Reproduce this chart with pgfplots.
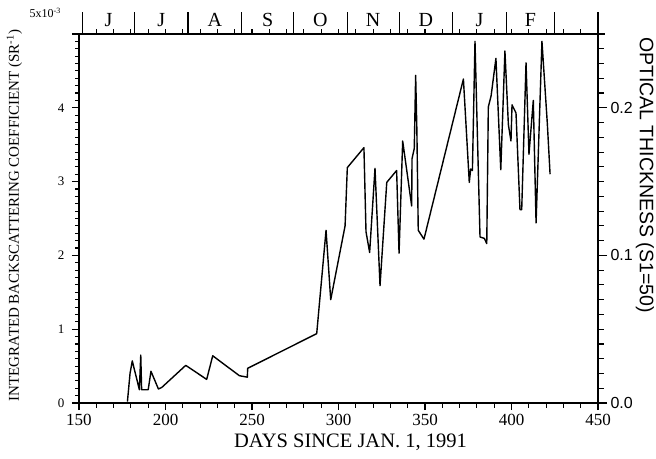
\documentclass[border=0pt]{standalone}
\usepackage{pgfplots}
\pgfplotsset{compat=1.18}
\usetikzlibrary{calc}
\usepackage{fontspec}
\setmainfont{Liberation Serif}
\newfontfamily\hsans{Liberation Sans}

\pgfplotsset{
  frame/.style={
    scale only axis,
    width=519pt, height=369pt,
    xmin=150, xmax=450,
    tick align=outside,
    axis line style={line width=1.3pt},
    xtick style={black, line width=1.1pt},
    ytick style={black, line width=1.1pt},
    /pgf/number format/assume math mode=true,
  },
  ticklines/.style={black, line width=1.1pt, unbounded coords=jump, forget plot},
}

\begin{document}
\begin{tikzpicture}

% left axis: backscatter, bottom axis: days
\begin{axis}[
  frame, name=main,
  clip=false,
  ymin=0, ymax=5,
  xtick pos=bottom, ytick pos=left,
  xtick={150,200,...,450},
  ytick={0,1,2,3,4,5},
  yticklabels={0,1,2,3,4,{}},
  major tick length=7pt,
  xticklabel style={font=\fontsize{17}{19}\selectfont, yshift=-1pt},
  yticklabel style={font=\fontsize{13}{15}\selectfont, xshift=-4pt},
  xlabel={DAYS SINCE JAN. 1, 1991},
  xlabel style={font=\fontsize{20.5}{22}\selectfont, xshift=12pt, yshift=-1pt},
  ylabel={INTEGRATED BACKSCATTERING COEFFICIENT (SR\textsuperscript{-1})},
  ylabel style={font=\fontsize{15}{17}\selectfont, yshift=29pt, xshift=3pt},
]
\addplot[black, line width=1.4pt, line join=round] coordinates {
(178,0.02) (179.5,0.40) (180.8,0.57) (184.9,0.18) (185.7,0.65)
(186.2,0.18) (190,0.18) (191.6,0.43) (195.9,0.19) (197.8,0.21)
(211.7,0.51) (223.8,0.32) (227.3,0.64) (242.7,0.37) (247.3,0.35)
(247.5,0.47) (287.4,0.94) (292.8,2.34) (295.5,1.40) (303.8,2.40)
(305.1,3.19) (314.7,3.46) (315.9,2.32) (318.0,2.04) (321.1,3.18)
(324.0,1.59) (327.9,2.99) (333.6,3.15) (335.0,2.03) (337.1,3.55)
(342.3,2.67) (342.5,3.31) (343.8,3.45) (344.6,4.44) (345.3,3.70)
(346.1,2.34) (349.4,2.22) (372.2,4.39) (375.6,2.99) (376.4,3.17)
(377.4,3.15) (378.9,4.90) (381.8,2.25) (384.3,2.23) (385.7,2.16)
(386.6,4.01) (388.2,4.16) (391.0,4.67) (393.8,3.16) (396.2,4.77)
(398.2,3.77) (399.7,3.55) (400.3,4.04) (402.6,3.93) (404.9,2.62)
(405.9,2.62) (408.4,4.61) (410.1,3.37) (412.6,4.10) (414.2,2.44)
(417.6,4.90) (420.7,3.79) (422.3,3.10)
};

% tick marks along the bottom edge (7pt = 0.095, 4.5pt = 0.061 in y units)
\addplot[ticklines] coordinates {
(150,0) (150,-0.095) (150,nan)
(160,0) (160,-0.061) (160,nan)
(170,0) (170,-0.061) (170,nan)
(180,0) (180,-0.061) (180,nan)
(190,0) (190,-0.061) (190,nan)
(200,0) (200,-0.095) (200,nan)
(210,0) (210,-0.061) (210,nan)
(220,0) (220,-0.061) (220,nan)
(230,0) (230,-0.061) (230,nan)
(240,0) (240,-0.061) (240,nan)
(250,0) (250,-0.095) (250,nan)
(260,0) (260,-0.061) (260,nan)
(270,0) (270,-0.061) (270,nan)
(280,0) (280,-0.061) (280,nan)
(290,0) (290,-0.061) (290,nan)
(300,0) (300,-0.095) (300,nan)
(310,0) (310,-0.061) (310,nan)
(320,0) (320,-0.061) (320,nan)
(330,0) (330,-0.061) (330,nan)
(340,0) (340,-0.061) (340,nan)
(350,0) (350,-0.095) (350,nan)
(360,0) (360,-0.061) (360,nan)
(370,0) (370,-0.061) (370,nan)
(380,0) (380,-0.061) (380,nan)
(390,0) (390,-0.061) (390,nan)
(400,0) (400,-0.095) (400,nan)
(410,0) (410,-0.061) (410,nan)
(420,0) (420,-0.061) (420,nan)
(430,0) (430,-0.061) (430,nan)
(440,0) (440,-0.061) (440,nan)
(450,0) (450,-0.095)
};

% small tick marks along the top edge
\addplot[ticklines] coordinates {
(160,5) (160,5.061) (160,nan)
(170,5) (170,5.061) (170,nan)
(180,5) (180,5.061) (180,nan)
(190,5) (190,5.061) (190,nan)
(200,5) (200,5.061) (200,nan)
(210,5) (210,5.061) (210,nan)
(220,5) (220,5.061) (220,nan)
(230,5) (230,5.061) (230,nan)
(240,5) (240,5.061) (240,nan)
(250,5) (250,5.061) (250,nan)
(260,5) (260,5.061) (260,nan)
(270,5) (270,5.061) (270,nan)
(280,5) (280,5.061) (280,nan)
(290,5) (290,5.061) (290,nan)
(300,5) (300,5.061) (300,nan)
(310,5) (310,5.061) (310,nan)
(320,5) (320,5.061) (320,nan)
(330,5) (330,5.061) (330,nan)
(340,5) (340,5.061) (340,nan)
(350,5) (350,5.061) (350,nan)
(360,5) (360,5.061) (360,nan)
(370,5) (370,5.061) (370,nan)
(380,5) (380,5.061) (380,nan)
(390,5) (390,5.061) (390,nan)
(400,5) (400,5.061) (400,nan)
(410,5) (410,5.061) (410,nan)
(420,5) (420,5.061) (420,nan)
(430,5) (430,5.061) (430,nan)
(440,5) (440,5.061)
};

% tick marks along the left edge (7pt = 4.05, 4pt = 2.31 in x units)
\addplot[ticklines] coordinates {
(150,0) (145.95,0) (150,nan)
(150,0.1) (147.69,0.1) (150,nan)
(150,0.2) (147.69,0.2) (150,nan)
(150,0.3) (147.69,0.3) (150,nan)
(150,0.4) (147.69,0.4) (150,nan)
(150,0.5) (147.69,0.5) (150,nan)
(150,0.6) (147.69,0.6) (150,nan)
(150,0.7) (147.69,0.7) (150,nan)
(150,0.8) (147.69,0.8) (150,nan)
(150,0.9) (147.69,0.9) (150,nan)
(150,1) (145.95,1) (150,nan)
(150,1.1) (147.69,1.1) (150,nan)
(150,1.2) (147.69,1.2) (150,nan)
(150,1.3) (147.69,1.3) (150,nan)
(150,1.4) (147.69,1.4) (150,nan)
(150,1.5) (147.69,1.5) (150,nan)
(150,1.6) (147.69,1.6) (150,nan)
(150,1.7) (147.69,1.7) (150,nan)
(150,1.8) (147.69,1.8) (150,nan)
(150,1.9) (147.69,1.9) (150,nan)
(150,2) (145.95,2) (150,nan)
(150,2.1) (147.69,2.1) (150,nan)
(150,2.2) (147.69,2.2) (150,nan)
(150,2.3) (147.69,2.3) (150,nan)
(150,2.4) (147.69,2.4) (150,nan)
(150,2.5) (147.69,2.5) (150,nan)
(150,2.6) (147.69,2.6) (150,nan)
(150,2.7) (147.69,2.7) (150,nan)
(150,2.8) (147.69,2.8) (150,nan)
(150,2.9) (147.69,2.9) (150,nan)
(150,3) (145.95,3) (150,nan)
(150,3.1) (147.69,3.1) (150,nan)
(150,3.2) (147.69,3.2) (150,nan)
(150,3.3) (147.69,3.3) (150,nan)
(150,3.4) (147.69,3.4) (150,nan)
(150,3.5) (147.69,3.5) (150,nan)
(150,3.6) (147.69,3.6) (150,nan)
(150,3.7) (147.69,3.7) (150,nan)
(150,3.8) (147.69,3.8) (150,nan)
(150,3.9) (147.69,3.9) (150,nan)
(150,4) (145.95,4) (150,nan)
(150,4.1) (147.69,4.1) (150,nan)
(150,4.2) (147.69,4.2) (150,nan)
(150,4.3) (147.69,4.3) (150,nan)
(150,4.4) (147.69,4.4) (150,nan)
(150,4.5) (147.69,4.5) (150,nan)
(150,4.6) (147.69,4.6) (150,nan)
(150,4.7) (147.69,4.7) (150,nan)
(150,4.8) (147.69,4.8) (150,nan)
(150,4.9) (147.69,4.9) (150,nan)
(150,5) (145.95,5)
};

% tick marks along the right edge: optical thickness 0.01 = 0.2 units
% (9pt = 5.2, 5.5pt = 3.18 in x units)
\addplot[ticklines] coordinates {
(450,0) (455.2,0) (450,nan)
(450,0.2) (453.18,0.2) (450,nan)
(450,0.4) (453.18,0.4) (450,nan)
(450,0.6) (453.18,0.6) (450,nan)
(450,0.8) (453.18,0.8) (450,nan)
(450,1.0) (453.18,1.0) (450,nan)
(450,1.2) (453.18,1.2) (450,nan)
(450,1.4) (453.18,1.4) (450,nan)
(450,1.6) (453.18,1.6) (450,nan)
(450,1.8) (453.18,1.8) (450,nan)
(450,2) (455.2,2) (450,nan)
(450,2.2) (453.18,2.2) (450,nan)
(450,2.4) (453.18,2.4) (450,nan)
(450,2.6) (453.18,2.6) (450,nan)
(450,2.8) (453.18,2.8) (450,nan)
(450,3.0) (453.18,3.0) (450,nan)
(450,3.2) (453.18,3.2) (450,nan)
(450,3.4) (453.18,3.4) (450,nan)
(450,3.6) (453.18,3.6) (450,nan)
(450,3.8) (453.18,3.8) (450,nan)
(450,4) (455.2,4) (450,nan)
(450,4.2) (453.18,4.2) (450,nan)
(450,4.4) (453.18,4.4) (450,nan)
(450,4.6) (453.18,4.6) (450,nan)
(450,4.8) (453.18,4.8) (450,nan)
(450,5.0) (454.0,5.0)
};
\end{axis}

% top axis: months
\begin{axis}[
  frame,
  ymin=0, ymax=5,
  xtick pos=top, xticklabel pos=top,
  ytick=\empty,
  xtick={152,182,213,244,274,305,335,366,397,425,450},
  xticklabels={},
  major tick length=22pt,
  extra x ticks={167,197.5,228.5,259,289.5,320,350.5,381.5,411},
  extra x tick labels={J,J,A,S,O,N,D,J,F},
  extra x tick style={xtick style={draw=none},
    tick label style={font=\fontsize{20}{22}\selectfont, yshift=-18pt}},
]
\end{axis}

% right axis: optical thickness
\begin{axis}[
  frame,
  ymin=0, ymax=0.25,
  xtick=\empty,
  ytick pos=right, yticklabel pos=right,
  ytick={0,0.1,0.2},
  yticklabel style={font=\hsans\fontsize{16}{18}\selectfont,
    /pgf/number format/.cd, fixed, fixed zerofill, precision=1},
  major tick length=9pt,
]
\end{axis}

\node[anchor=south east, font=\fontsize{12}{13}\selectfont, inner sep=0pt]
  at ($(main.north west)+(-18pt,16pt)$) {5x10\textsuperscript{-3}};
\node[rotate=-90, font=\hsans\fontsize{19.5}{21}\selectfont, inner sep=0pt]
  at ($(main.north east)+(47pt,-141pt)$) {OPTICAL THICKNESS (S1=50)};

\pgfresetboundingbox
\path (main.south west) ++(-79pt,-55pt) rectangle ++(656pt,458pt);
\end{tikzpicture}
\end{document}
